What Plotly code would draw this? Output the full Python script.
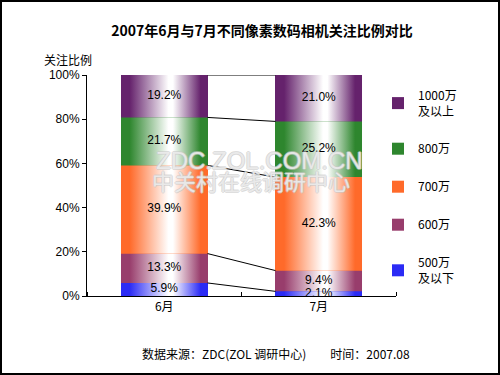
import plotly.graph_objects as go

months = ["6月", "7月"]
series_names = ["500万<br>及以下", "600万", "700万", "800万", "1000万<br>及以上"]
series_colors = ["#2B2BF5", "#983D6C", "#FF6A2A", "#2E862E", "#65226C"]
values = [
    [5.9, 2.1],
    [13.3, 9.4],
    [39.9, 42.3],
    [21.7, 25.2],
    [19.2, 21.0],
]
y_ticks = [0, 20, 40, 60, 80, 100]
y_tick_labels = ["0%", "20%", "40%", "60%", "80%", "100%"]

BAR_W = 0.56
xs = list(range(len(months)))
n_series = len(values)

fig = go.Figure()

# cumulative bases
bases = []
cum = [0.0] * len(months)
for vals in values:
    bases.append(cum[:])
    cum = [c + v for c, v in zip(cum, vals)]

# real stacked bars (solid base colour, also used for legend)
for si, (name, col, vals) in enumerate(zip(series_names, series_colors, values)):
    fig.add_trace(go.Bar(
        x=xs, y=vals, name=name, width=BAR_W, legendgroup=f"g{si}",
        legendrank=n_series - si,
        marker=dict(color=col, line=dict(width=0)),
        hoverinfo="skip",
    ))

# gradient overlays on each segment
for si, (col, vals) in enumerate(zip(series_colors, values)):
    for i in xs:
        b = bases[si][i]
        t = b + vals[i]
        x0, x1 = i - BAR_W / 2, i + BAR_W / 2
        fig.add_trace(go.Scatter(
            x=[x0, x1, x1, x0, x0], y=[b, b, t, t, b],
            mode="lines", line=dict(width=0), fill="toself",
            fillgradient=dict(
                type="horizontal", start=x0, stop=x1,
                colorscale=[[0, col], [0.1, col], [0.55, "#FFFFFF"], [0.6, "#FFFFFF"], [0.92, col], [1, col]],
            ),
            showlegend=False, hoverinfo="skip",
        ))

# connecting lines between bar tops
lx, ly = [], []
for si in range(n_series):
    top6 = bases[si][0] + values[si][0]
    top7 = bases[si][1] + values[si][1]
    lx += [0 + BAR_W / 2, 1 - BAR_W / 2, None]
    ly += [top6, top7, None]
fig.add_trace(go.Scatter(x=lx, y=ly, mode="lines", line=dict(color="black", width=1),
                         showlegend=False, hoverinfo="skip"))

# value labels
tx, ty, tt = [], [], []
for si, vals in enumerate(values):
    for i in xs:
        tx.append(i)
        ty.append(bases[si][i] + vals[i] / 2)
        tt.append(f"{vals[i]:.1f}%")
fig.add_trace(go.Scatter(x=tx, y=ty, text=tt, mode="text",
                         textfont=dict(size=12, color="black", family="Liberation Sans, Arial"),
                         showlegend=False, hoverinfo="skip"))

L, R, T, B = 87, 104, 75, 79
PW, PH = 500 - L - R, 375 - T - B

def px_x(px):
    return (px - L) / PW

def px_y(py):
    return (375 - B - py) / PH

wm_shadow = "1px 0 0 #c8c8c8, -1px 0 0 #c8c8c8, 0 1px 0 #c8c8c8, 0 -1px 0 #c8c8c8"

def ann(text, px, py, **font):
    return dict(text=text, x=px_x(px), y=px_y(py), xref="paper", yref="paper",
                xanchor="center", yanchor="middle", showarrow=False, font=font)

fig.update_layout(
    width=500, height=375,
    margin=dict(l=L, r=R, t=T, b=B, autoexpand=False),
    paper_bgcolor="white", plot_bgcolor="white",
    barmode="stack", bargap=0,
    font=dict(family="Liberation Sans, Noto Sans CJK SC", size=12, color="black"),
    title=dict(text="<b>2007年6月与7月不同像素数码相机关注比例对比</b>",
               x=px_x(262), xanchor="center", xref="paper",
               y=1 - 31 / 375, yanchor="middle",
               font=dict(size=14, family="Noto Sans CJK SC", color="black")),
    xaxis=dict(range=[-0.5, 1.5], tickvals=xs, ticktext=months, ticks="",
               showline=True, linecolor="black", linewidth=1, showgrid=False, zeroline=False,
               tickfont=dict(size=12, family="Noto Sans CJK SC"), automargin=False,
               minor=dict(tick0=0.5, dtick=1, ticks="inside", ticklen=4, tickcolor="black", showgrid=False),
               fixedrange=True),
    yaxis=dict(range=[0, 100], tickvals=y_ticks, ticktext=y_tick_labels, ticks="outside", ticklen=4,
               tickcolor="black", showline=True, linecolor="black", linewidth=1, automargin=False,
               showgrid=False, zeroline=False, tickfont=dict(size=12), fixedrange=True),
    legend=dict(traceorder="grouped", x=px_x(378), y=px_y(81), xanchor="left", yanchor="top",
                font=dict(size=12, family="Noto Sans CJK SC"), tracegroupgap=19,
                itemwidth=30, bgcolor="rgba(0,0,0,0)", maxheight=300),
    annotations=[
        ann("关注比例", 68, 59, size=12, family="Noto Sans CJK SC"),
        ann("ZDC.ZOL.COM.CN", 259, 160, size=24, family="Liberation Sans",
            color="rgba(255,255,255,0.6)", shadow=wm_shadow),
        ann("中关村在线调研中心", 251, 180, size=22, family="Noto Sans CJK SC",
            color="rgba(255,255,255,0.6)", shadow=wm_shadow),
        ann("数据来源：ZDC(ZOL 调研中心)　　时间：2007.08", 276, 353,
            size=12, family="Noto Sans CJK SC"),
    ],
    shapes=[dict(type="rect", xref="paper", yref="paper",
                 x0=px_x(1), x1=px_x(499), y0=px_y(374), y1=px_y(1),
                 line=dict(color="black", width=2), layer="above")],
)

fig.write_html("out.html", config={"displayModeBar": False},
               post_script="document.body.style.margin='0';")
